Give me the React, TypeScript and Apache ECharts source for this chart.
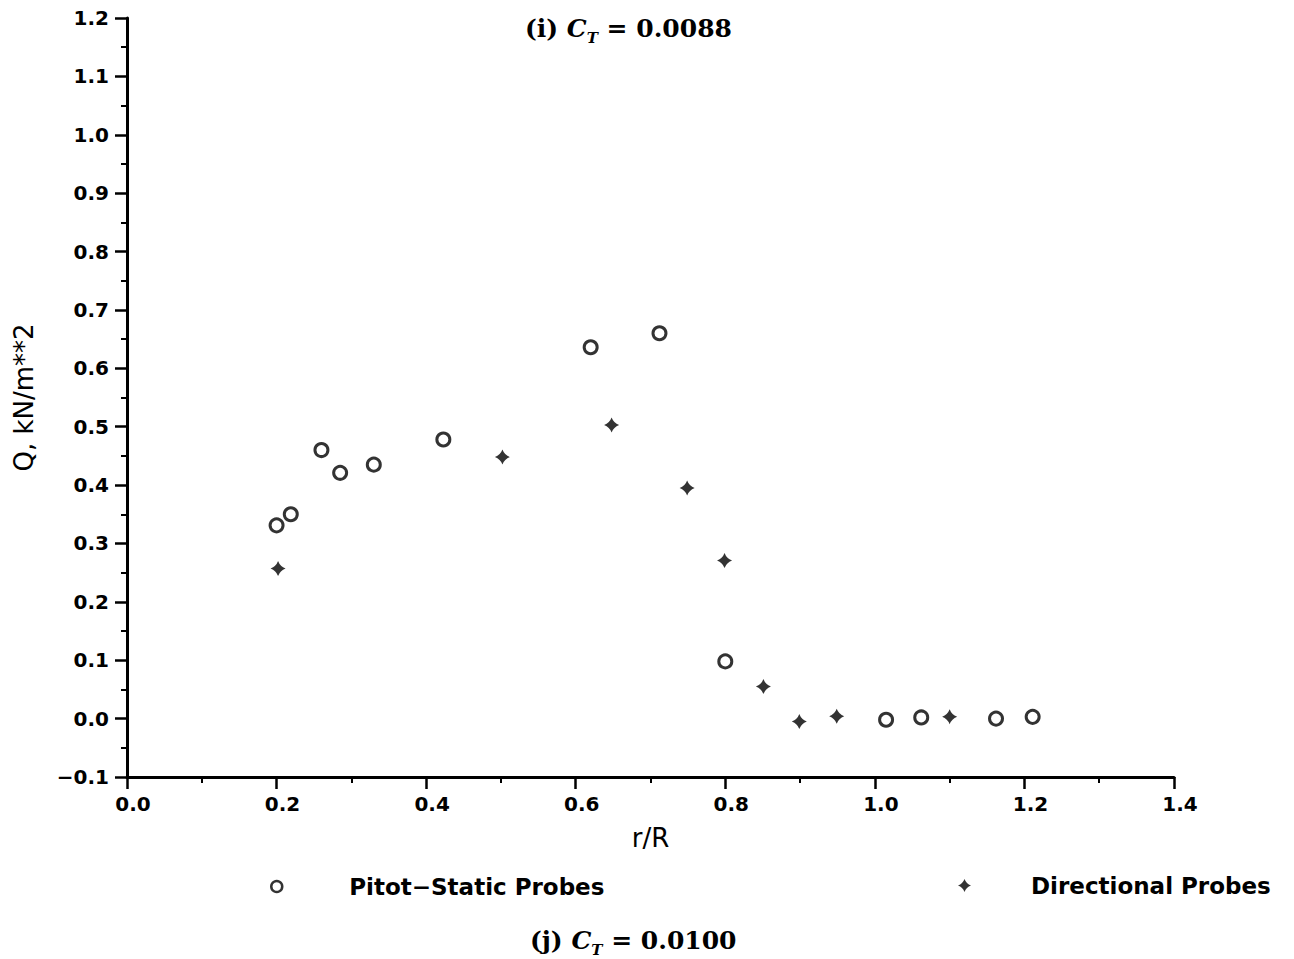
import React, { useEffect, useRef } from "react";
import * as echarts from "echarts";

// Pitot-static probes (circles)
const pitotR = [0.2, 0.219, 0.26, 0.285, 0.33, 0.423, 0.62, 0.712, 0.8, 1.015, 1.062, 1.162, 1.211];
const pitotQ = [0.331, 0.35, 0.46, 0.421, 0.435, 0.478, 0.636, 0.66, 0.098, -0.002, 0.002, 0.0, 0.003];
// Directional probes (plus)
const dirR = [0.202, 0.502, 0.648, 0.749, 0.799, 0.851, 0.899, 0.949, 1.1];
const dirQ = [0.257, 0.448, 0.503, 0.395, 0.271, 0.055, -0.005, 0.004, 0.003];

const seriesNames = ["Pitot\u2212Static Probes", "Directional Probes"];
const xName = "r/R";
const yName = "Q, kN/m**2";
const topTitle = ["(i) ", "C", "T", " = 0.0088"];
const bottomTitle = ["(j) ", "C", "T", " = 0.0100"];

const STAR = "path://M0,-7 Q1.9,-1.9 7,0 Q1.9,1.9 0,7 Q-1.9,1.9 -7,0 Q-1.9,-1.9 0,-7 Z";

const fmt = (v: number) => (v < -1e-9 ? "\u2212" + Math.abs(v).toFixed(1) : Math.abs(v).toFixed(1));

const titleRich = {
  p: { fontFamily: "DejaVu Serif", fontWeight: "bold", fontSize: 25, color: "#000", lineHeight: 34 },
  c: { fontFamily: "DejaVu Serif", fontWeight: "bold", fontStyle: "italic", fontSize: 25, color: "#000", lineHeight: 34 },
  t: { fontFamily: "DejaVu Serif", fontWeight: "bold", fontStyle: "italic", fontSize: 15, color: "#000", lineHeight: 10, verticalAlign: "bottom" },
};
const richText = (parts: string[]) => `{p|${parts[0]}}{c|${parts[1]}}{t|${parts[2]}}{p|${parts[3]}}`;

export default function App() {
  const ref = useRef<HTMLDivElement>(null);
  useEffect(() => {
    if (!ref.current) return;
    const chart = echarts.init(ref.current, undefined, { renderer: "svg" });
    const axisCommon = {
      axisLine: { show: true, onZero: false, lineStyle: { color: "#000", width: 3 } },
      axisTick: { show: true, length: 12, lineStyle: { color: "#000", width: 2.5 } },
      minorTick: { show: true, splitNumber: 2, length: 6, lineStyle: { color: "#000", width: 2 } },
      splitLine: { show: false },
      minorSplitLine: { show: false },
    };
    const labelStyle = {
      formatter: fmt,
      fontFamily: "DejaVu Sans",
      fontWeight: "bold",
      fontSize: 20,
      color: "#000",
    };
    chart.setOption({
      animation: false,
      backgroundColor: "#fff",
      title: [
        { text: richText(topTitle), left: 520, top: 6, textStyle: { rich: titleRich } },
        { text: richText(bottomTitle), left: 525, top: 918, textStyle: { rich: titleRich } },
      ],
      legend: [
        {
          data: [seriesNames[0]],
          left: 265,
          top: 870,
          itemWidth: 11,
          itemHeight: 11,
          itemStyle: { borderWidth: 2.5 },
          textStyle: { fontFamily: "DejaVu Sans", fontWeight: "bold", fontSize: 23, color: "#000", padding: [0, 0, 0, 62] },
        },
        {
          data: [seriesNames[1]],
          left: 953,
          top: 869,
          itemWidth: 13,
          itemHeight: 13,
          textStyle: { fontFamily: "DejaVu Sans", fontWeight: "bold", fontSize: 23, color: "#000", padding: [0, 0, 0, 55] },
        },
      ],
      grid: { left: 127, right: 120, top: 18, bottom: 182, containLabel: false },
      xAxis: {
        type: "value",
        min: 0,
        max: 1.4,
        interval: 0.2,
        name: xName,
        nameLocation: "middle",
        nameGap: 48,
        nameTextStyle: { fontFamily: "DejaVu Sans", fontSize: 26, color: "#000" },
        ...axisCommon,
        axisLabel: { ...labelStyle, margin: 17, padding: [0, 0, 0, 12] },
      },
      yAxis: {
        type: "value",
        min: -0.1,
        max: 1.2,
        interval: 0.1,
        name: yName,
        nameLocation: "middle",
        nameGap: 90,
        nameTextStyle: { fontFamily: "DejaVu Sans", fontSize: 26, color: "#000" },
        ...axisCommon,
        axisLabel: { ...labelStyle, margin: 18 },
      },
      series: [
        {
          name: seriesNames[0],
          type: "scatter",
          symbol: "circle",
          symbolSize: 13,
          itemStyle: { color: "#fff", borderColor: "#000", borderWidth: 3 },
          data: pitotR.map((r, i) => [r, pitotQ[i]]),
        },
        {
          name: seriesNames[1],
          type: "scatter",
          symbol: STAR,
          symbolSize: 15,
          itemStyle: { color: "#000" },
          data: dirR.map((r, i) => [r, dirQ[i]]),
        },
      ],
    });
    return () => chart.dispose();
  }, []);
  return <div ref={ref} style={{ position: "absolute", left: 0, top: 0, width: 1294, height: 959 }} />;
}
